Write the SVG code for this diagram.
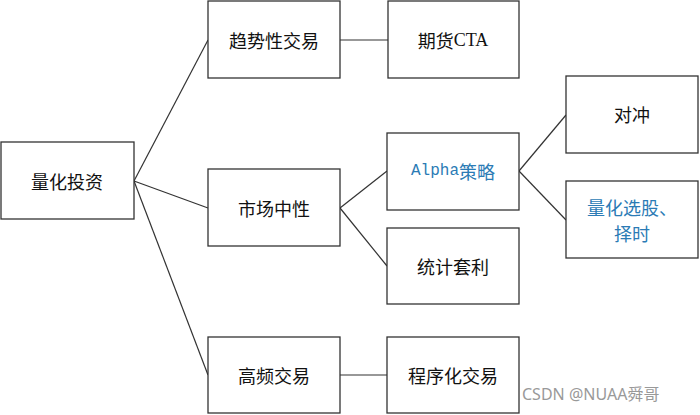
<svg xmlns="http://www.w3.org/2000/svg" width="700" height="415" viewBox="0 0 700 415">
<style>
.box{fill:#fff;stroke:#333;stroke-width:1.3}
.t{font-family:"Noto Sans CJK SC","Liberation Serif",sans-serif;font-size:18px;fill:#111;text-anchor:middle;dominant-baseline:central}
.b{fill:#2b7bb5}
.c{fill:none;stroke:#333;stroke-width:1.2}
.wm{font-family:"Noto Sans","Noto Sans CJK SC",sans-serif;font-size:16px;fill:#999}
</style>
<rect width="700" height="415" fill="#fff"/>
<g id="connectors">
<line class="c" x1="134" y1="181" x2="208" y2="40"/>
<line class="c" x1="134" y1="181" x2="208" y2="208"/>
<line class="c" x1="134" y1="181" x2="208" y2="375"/>
<line class="c" x1="340" y1="40" x2="388" y2="40"/>
<line class="c" x1="340" y1="208" x2="387" y2="171"/>
<line class="c" x1="340" y1="208" x2="387" y2="266"/>
<line class="c" x1="340" y1="375" x2="387" y2="375"/>
<line class="c" x1="519" y1="171" x2="566" y2="115"/>
<line class="c" x1="519" y1="171" x2="566" y2="220"/>
</g>
<g id="n1"><rect class="box" x="1" y="142" width="133" height="77"/><text class="t" x="67" y="181">量化投资</text></g>
<g id="n2"><rect class="box" x="208" y="1" width="132" height="77"/><text class="t" x="274" y="40">趋势性交易</text></g>
<g id="n3"><rect class="box" x="388" y="1" width="131" height="77"/><text class="t" x="453" y="40">期货<tspan font-family="Liberation Serif">CTA</tspan></text></g>
<g id="n4"><rect class="box" x="208" y="169" width="132" height="77"/><text class="t" x="274" y="208">市场中性</text></g>
<g id="n5"><rect class="box" x="387" y="133" width="132" height="77"/><text class="t b" x="453" y="171"><tspan font-family="Liberation Mono" font-size="16">Alpha</tspan>策略</text></g>
<g id="n6"><rect class="box" x="387" y="228" width="132" height="76"/><text class="t" x="453" y="266">统计套利</text></g>
<g id="n7"><rect class="box" x="566" y="76" width="132" height="77"/><text class="t" x="632" y="114">对冲</text></g>
<g id="n8"><rect class="box" x="566" y="181" width="132" height="77"/><text class="t b" x="632" y="207" font-size="17">量化选股、</text><text class="t b" x="632" y="233" font-size="17">择时</text></g>
<g id="n9"><rect class="box" x="208" y="337" width="132" height="76"/><text class="t" x="274" y="375">高频交易</text></g>
<g id="n10"><rect class="box" x="387" y="337" width="132" height="76"/><text class="t" x="453" y="375">程序化交易</text></g>
<text class="wm" x="522" y="400">CSDN @NUAA舜哥</text>
</svg>
